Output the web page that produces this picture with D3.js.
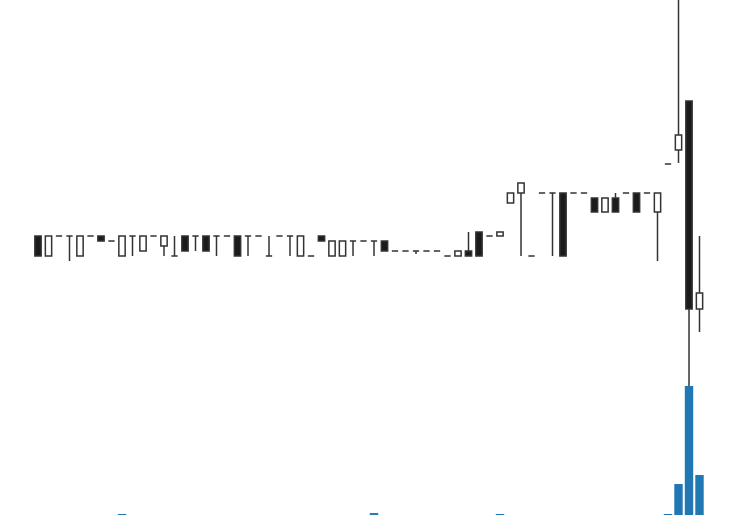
<!DOCTYPE html>
<html>
<head>
<meta charset="utf-8">
<script src="https://cdn.jsdelivr.net/npm/d3@7"></script>
<style>
  html, body { margin: 0; padding: 0; background: #fff; }
  svg { display: block; }
</style>
</head>
<body>
<svg id="chart" width="737" height="515"></svg>
<script>
// ---- Data ----
const opens = [
  41, 36, 41, 41, 36, 41, 41, 39.75, 36, 41,
  37.25, 41, 38.5, 36, 41, 41, 41, 41, 41, 41,
  41, 41, 36, 41, 41, 36, 36, 41, 36, 36,
  39.75, 39.75, 39.75, 39.75, 37.25, 37.25, 37.25, 37.25, 37.25, 36,
  36, 37.25, 42, 41, 41, 49.25, 51.75, 36, 51.75, 51.75,
  51.75, 51.75, 51.75, 50.5, 47, 50.5, 51.75, 51.75, 51.75, 47,
  59, 62.5, 74.75, 22.75
];
const highs = [
  41, 41, 41, 41, 41, 41, 41, 39.75, 41, 41,
  41, 41, 41, 41, 41, 41, 41, 41, 41, 41,
  41, 41, 41, 41, 41, 41, 36, 41, 39.75, 39.75,
  39.75, 39.75, 39.75, 39.75, 37.25, 37.25, 37.25, 37.25, 37.25, 36,
  37.25, 42, 42, 41, 42, 51.75, 54.25, 36, 51.75, 51.75,
  51.75, 51.75, 51.75, 50.5, 50.5, 51.75, 51.75, 51.75, 51.75, 51.75,
  59, 100, 74.75, 41
];
const lows = [
  36, 36, 41, 34.75, 36, 41, 39.75, 39.75, 36, 36,
  37.25, 41, 36, 36, 37.25, 37.25, 37.25, 36, 41, 36,
  36, 41, 36, 41, 36, 36, 36, 39.75, 36, 36,
  36, 39.75, 36, 37.25, 37.25, 37.25, 36.5, 37.25, 37.25, 36,
  36, 36, 36, 41, 41, 49.25, 36, 36, 51.75, 36,
  36, 51.75, 51.75, 47, 47, 47, 51.75, 47, 51.75, 34.75,
  59, 59.25, 1, 17
];
const closes = [
  36, 41, 41, 41, 41, 41, 39.75, 39.75, 41, 41,
  41, 41, 41, 36, 37.25, 41, 37.25, 41, 41, 36,
  41, 41, 36, 41, 41, 41, 36, 39.75, 39.75, 39.75,
  39.75, 39.75, 39.75, 37.25, 37.25, 37.25, 37.25, 37.25, 37.25, 36,
  37.25, 36, 36, 41, 42, 51.75, 54.25, 36, 51.75, 51.75,
  36, 51.75, 51.75, 47, 50.5, 47, 51.75, 47, 51.75, 51.75,
  59, 66.25, 22.75, 26.75
];
const volumes = [
  0, 0, 0, 0, 0, 0, 0, 0, 0.8, 0,
  0, 0, 0, 0, 0, 0, 0, 0, 0, 0,
  0, 0, 0, 0, 0, 0, 0, 0, 0, 0,
  0, 0, 1.5, 0, 0, 0, 0, 0, 0, 0,
  0, 0, 0, 0, 0.8, 0, 0, 0, 0, 0,
  0, 0, 0, 0, 0, 0, 0, 0, 0, 0,
  0.8, 24, 100, 31
];
const candleIndex = d3.range(opens.length);

// ---- Build table ----
const data = candleIndex.map(i => ({
  i, open: opens[i], high: highs[i], low: lows[i], close: closes[i], volume: volumes[i]
}));

const svg = d3.select("#chart");
const W = 737, H = 515;

const x = d3.scalePoint().domain(candleIndex).range([38, 699.5]).padding(0);
const step = x.step();
const y = d3.scaleLinear().domain([0, 100]).range([400, 0]);
const yVol = d3.scaleLinear().domain([0, 100]).range([H, 386]);

const bodyW = step * 0.6;
const volW = step * 0.8;

const wickColor = "#333333";
const downFill = "#1b1b1b";

// wicks
svg.append("g").selectAll("line").data(data).join("line")
  .attr("x1", d => x(d.i)).attr("x2", d => x(d.i))
  .attr("y1", d => y(d.high)).attr("y2", d => y(d.low))
  .attr("stroke", wickColor).attr("stroke-width", 1.5);

// bodies (paths so that doji with zero height still draw as a dash)
svg.append("g").selectAll("path").data(data).join("path")
  .attr("d", d => {
    const x0 = x(d.i) - bodyW / 2;
    const yTop = y(Math.max(d.open, d.close));
    const h = Math.abs(y(d.open) - y(d.close));
    return `M${x0},${yTop}h${bodyW}v${h}h${-bodyW}Z`;
  })
  .attr("fill", d => d.close < d.open ? downFill : "#ffffff")
  .attr("stroke", wickColor)
  .attr("stroke-width", 1.5);

// volume
svg.append("g").selectAll("rect").data(data.filter(d => d.volume > 0)).join("rect")
  .attr("x", d => x(d.i) - volW / 2)
  .attr("width", volW)
  .attr("y", d => yVol(d.volume))
  .attr("height", d => H - yVol(d.volume))
  .attr("fill", "#1f77b4");
</script>
</body>
</html>
